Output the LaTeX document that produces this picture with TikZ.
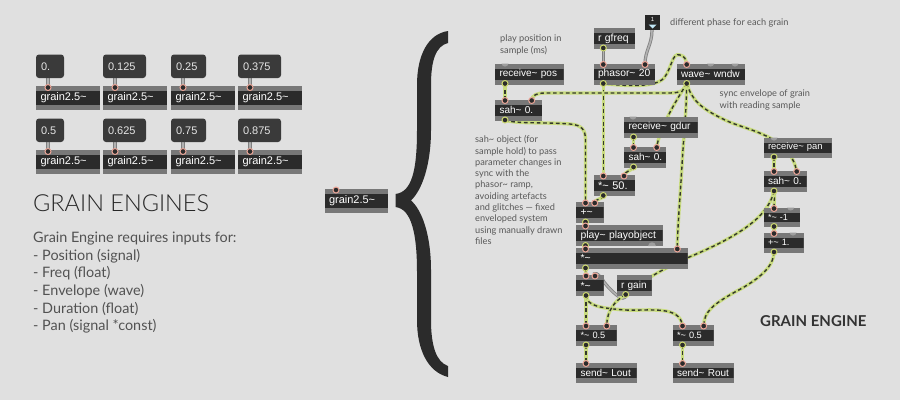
\documentclass[tikz,border=0pt]{standalone}
\usepackage{fontspec}
\setmainfont{Liberation Sans}
\newfontfamily\lato{Lato}
\newfontfamily\latolight{Lato Light}
\pgfdeclarelayer{wires}
\pgfsetlayers{wires,main}
\definecolor{pagebg}{HTML}{E0E0E0}
\definecolor{boxdark}{HTML}{2B2B2B}
\definecolor{boxband}{HTML}{787878}
\definecolor{msgdark}{HTML}{3A3A3A}
\definecolor{limew}{HTML}{C9DC80}
\definecolor{wdark}{HTML}{34382C}
\definecolor{inring}{HTML}{EDA698}
\definecolor{outring}{HTML}{CEDA70}
\definecolor{labelc}{HTML}{595959}
\tikzset{
  x=1pt,y=-1pt,
  mxbox/.style={rectangle,fill=boxband,inner xsep=4.5pt,inner ysep=0pt,align=left,text=white,
    path picture={\fill[boxdark] ([yshift=-5pt]path picture bounding box.north west) rectangle ([yshift=5pt]path picture bounding box.south east);}},
  mxmsg/.style={rectangle,rounded corners=3pt,fill=msgdark,inner xsep=5pt,inner ysep=0pt,align=left,text=white!90!black,font=\fontsize{11}{12}\selectfont},
  inport/.style={circle,draw=inring,fill=boxdark,line width=1pt,minimum size=6pt,inner sep=0pt},
  outport/.style={circle,draw=outring,fill=boxdark,line width=1pt,minimum size=6pt,inner sep=0pt},
  nubport/.style={fill=black!38},
  sigw/.style={preaction={draw=limew,line width=3.4pt},draw=wdark,line width=1.4pt,dash pattern=on 3.6pt off 2.8pt},
  grayw/.style={preaction={draw=black!50,line width=3.2pt},draw=black!30,line width=1.6pt},
  note/.style={anchor=north west,inner sep=0pt,align=left,text=labelc,font=\lato\fontsize{9.2}{11.27}\selectfont},
}
\newcommand{\pbxtext}{}
\newcommand{\pbx}[6][11]{%
  \pgfmathsetmacro{\pcx}{(#3+#5)/2}\pgfmathsetmacro{\pcy}{(#4+#6)/2}%
  \pgfmathsetmacro{\pw}{#5-#3}\pgfmathsetmacro{\ph}{#6-#4}\pgfmathsetmacro{\ptw}{\pw-9}%
  \node[mxbox,minimum width=\pw pt,minimum height=\ph pt,text width=\ptw pt,font=\fontsize{#1}{#1}\selectfont] (#2) at (\pcx,\pcy) {\mbox{\pbxtext}};}
\newcommand{\obj}[7][11]{\renewcommand{\pbxtext}{#7}\pbx[#1]{#2}{#3}{#4}{#5}{#6}}
\newcommand{\inp}[3]{\node[inport] (#1) at (#2,#3) {};}
\newcommand{\outp}[3]{\node[outport] (#1) at (#2,#3) {};}
\newcommand{\nubb}[2]{\fill[nubport] (#1-3.5,#2) .. controls (#1-3,#2+4) and (#1+3,#2+4) .. (#1+3.5,#2) -- cycle;}
\begin{document}
\begin{tikzpicture}
\useasboundingbox (0,0) rectangle (900,400);
% grain engines grid
\foreach \nm/\gx/\mx/\my/\gy/\val in {
  a/36/64/54.5/86/0.,b/103/146/54.5/86/0.125,c/171/206/54.5/86/0.25,d/238/281/54.5/86/0.375,
  e/36/64/118.5/150/0.5,f/103/146/118.5/150/0.625,g/171/206/118.5/150/0.75,h/238/281/118.5/150/0.875}{
  \pgfmathsetmacro{\gxe}{\gx+64}\pgfmathsetmacro{\gye}{\gy+24}
  \pgfmathsetmacro{\pxx}{\gx+12}\pgfmathsetmacro{\myy}{\my+23.5}\pgfmathsetmacro{\pyy}{\gy+1.5}
  \pgfmathsetmacro{\mmx}{(\gx+\mx)/2}\pgfmathsetmacro{\mmy}{\my+11.75}\pgfmathsetmacro{\mwd}{\mx-\gx}
  \obj{gr\nm}{\gx}{\gy}{\gxe}{\gye}{grain2.5\textasciitilde}
  \node[mxmsg,minimum width=\mwd pt,minimum height=23.5pt,text width=\mwd pt-10pt] (ms\nm) at (\mmx,\mmy) {\val};
  \inp{gr\nm i}{\pxx}{\pyy}
  \coordinate (ms\nm o) at (\pxx,\myy);
}
\node[anchor=west,inner sep=0pt,text=black!85,font=\latolight\fontsize{23.5}{25}\selectfont] (title) at (33,203) {GRAIN ENGINES};
\node[anchor=north west,inner sep=0pt,align=left,text=black!68,font=\lato\fontsize{14.4}{17.6}\selectfont] (reqs) at (33,232) {Grain Engine requires inputs for:\\- Position (signal)\\- Freq (float)\\- Envelope (wave)\\- Duration (float)\\- Pan (signal *const)};
% centre object
\obj{grmid}{324.5}{189}{388}{213}{grain2.5\textasciitilde}
\inp{grmidin}{336}{190}
% brace
\fill[boxdark] (448,31) .. controls (428,34) and (417,55) .. (417,85) -- (417,130) .. controls (417,170) and (412,192) .. (395.5,194) -- (395.5,207) .. controls (412,209) and (417,235) .. (417,272) -- (417,320) .. controls (417,350) and (428,372) .. (448,377) -- (448,366) .. controls (436,362) and (431,345) .. (431,320) -- (431,270) .. controls (431,235) and (422,210) .. (411,200.5) .. controls (422,190) and (431,165) .. (431,130) -- (431,85) .. controls (431,60) and (436,46) .. (448,43) -- cycle;
% patch objects
\obj[10]{rpos}{495}{63.5}{563.5}{84.5}{receive\textasciitilde{} pos}
\obj[10]{sahA}{495}{99.5}{542}{120.5}{sah\textasciitilde{} 0.}
\obj[10.4]{rfreq}{593.5}{28}{635}{49}{r gfreq}
\obj[10.3]{phas}{593.5}{63.5}{655}{84.5}{phasor\textasciitilde{} 20}
\obj[10.1]{wave}{676.5}{63.5}{745}{84.5}{wave\textasciitilde{} wndw}
\obj[10.1]{rgdur}{624}{116.5}{697.5}{137.5}{receive\textasciitilde{} gdur}
\obj[10]{sahB}{624}{146.5}{666}{167.5}{sah\textasciitilde{} 0.}
\obj[11]{mulfifty}{593.5}{175}{635}{196}{*\textasciitilde{} 50.}
\obj[10.4]{addsig}{576}{202}{603.5}{222.5}{+\textasciitilde}
\obj[10.4]{play}{576}{225}{662.5}{246}{play\textasciitilde{} playobject}
\obj[10.4]{mulbig}{576}{248}{687.5}{268.5}{*\textasciitilde}
\obj[10.4]{mulsm}{576}{275}{603.5}{296}{*\textasciitilde}
\obj[10]{rgain}{616.5}{275}{651.5}{296}{r gain}
\obj[9.2]{mulL}{576}{325}{616.5}{345.5}{*\textasciitilde{} 0.5}
\obj[9.2]{mulR}{672.5}{325}{713.5}{345.5}{*\textasciitilde{} 0.5}
\obj[10]{sendL}{576}{362.5}{636.5}{383}{send\textasciitilde{} Lout}
\obj[10]{sendR}{672.5}{362.5}{733.5}{383}{send\textasciitilde{} Rout}
\obj[9.4]{rpan}{763.5}{137.5}{831.5}{157.5}{receive\textasciitilde{} pan}
\obj[10]{sahC}{763.5}{170.5}{806.5}{191.5}{sah\textasciitilde{} 0.}
\obj[9]{mulneg}{763.5}{207.5}{800}{227}{*\textasciitilde{} -1}
\obj[9.2]{addone}{763.5}{232.5}{803.5}{252.5}{+\textasciitilde{} 1.}
% number box
\node[rectangle,fill=boxdark!90!black,minimum width=15.5pt,minimum height=15.5pt,inner sep=0pt,text=white,font=\fontsize{6}{6}\selectfont,text depth=6pt] (tog) at (652.5,22.7) {1};
\fill[black!10!cyan!25!white] (648.5,24.5) -- (656.5,24.5) -- (652.5,28.5) -- cycle;
\coordinate (togo) at (652,30);
% unused inlets
\nubb{505}{63.5}\nubb{633}{116.5}\nubb{710.7}{63.5}\nubb{735}{63.5}\nubb{774}{137.5}\nubb{790.7}{207.5}\nubb{793}{232.5}
\fill[black!38] (648,246) .. controls (649,241) and (655,241) .. (656,246) -- cycle;
% ports
\outp{rposo}{505}{83.5}
\inp{sahAa}{505}{100.5}\inp{sahAb}{531.7}{100.5}\outp{sahAo}{505}{120}
\outp{rfreqo}{603.3}{48}
\inp{phasa}{603.3}{64.5}\inp{phasb}{645}{64.5}\outp{phaso}{603.3}{83.5}
\inp{wavea}{686.7}{64.5}\outp{waveo}{686.7}{83.5}
\outp{rgduro}{633.5}{137}
\inp{sahBa}{633.5}{147.5}\inp{sahBb}{656.7}{147.5}\outp{sahBo}{633.5}{167}
\inp{mula}{603.3}{176}\inp{mulb}{624}{176}\outp{mulo}{603.3}{195.5}
\inp{adda}{585.5}{203}\inp{addb}{594.7}{203}\outp{addo}{585.5}{222}
\inp{playi}{585.5}{226}\outp{playo}{585.5}{245.5}
\inp{biga}{585.5}{249}\inp{bigb}{677.3}{249}\outp{bigo}{585.5}{268}
\inp{sma}{586}{276}\inp{smb}{595}{276}\outp{smo}{586}{295.5}
\outp{rgaino}{625.7}{294.5}
\inp{La}{586}{326}\inp{Lb}{606.7}{326}\outp{Lo}{586}{345}
\inp{Ra}{682.5}{326}\inp{Rb}{703.7}{326}\outp{Ro}{682.5}{345}
\inp{SLi}{586}{363.5}\inp{SRi}{682.5}{363.5}
\outp{rpano}{774}{157}
\inp{sahCa}{774}{171.5}\inp{sahCb}{796.7}{171.5}\outp{sahCo}{774}{191}
\inp{nega}{774}{208.5}\outp{nego}{774}{226.5}
\inp{onea}{774}{233.5}\outp{oneo}{774}{252}
% wires
\begin{pgfonlayer}{wires}
\fill[pagebg] (0,0) rectangle (900,400);
\foreach \nm in {a,b,c,d,e,f,g,h}{
  \draw[grayw] (ms\nm o) -- (gr\nm i.center);
}
\draw[grayw] (rfreqo.center) -- (phasa.center);
\draw[grayw] (togo) .. controls (652,45) and (645,50) .. (phasb.center);
\draw[grayw] (rgaino.center) .. controls (625,305) and (610,290) .. (604,282) .. controls (598,272) and (593,272) .. (smb.center);
\draw[sigw] (rposo.center) -- (sahAa.center);
\draw[sigw] (phaso.center) -- (mula.center);
\draw[sigw] (phaso.center) .. controls (625,86) and (655,88) .. (664,78) .. controls (672,68) and (672,52) .. (680,55) .. controls (685,56) and (686,60) .. (wavea.center);
\draw[sigw] (waveo.center) .. controls (686,90) and (680,93) .. (670,93) -- (545,93) .. controls (537,93) and (532,95) .. (sahAb.center);
\draw[sigw] (sahAo.center) .. controls (515,124) and (545,122) .. (570,124) .. controls (582,125) and (585.5,130) .. (585.5,140) -- (adda.center);
\draw[sigw] (waveo.center) .. controls (680,95) and (660,125) .. (sahBb.center);
\draw[sigw] (waveo.center) .. controls (686,120) and (684,130) .. (682,165) .. controls (680,200) and (677.3,230) .. (bigb.center);
\draw[sigw] (waveo.center) .. controls (692,100) and (700,108) .. (725,120) .. controls (745,130) and (790,135) .. (sahCb.center);
\draw[sigw] (rgduro.center) -- (sahBa.center);
\draw[sigw] (sahBo.center) .. controls (630,172) and (626,170) .. (mulb.center);
\draw[sigw] (mulo.center) .. controls (602,200) and (596,198) .. (addb.center);
\draw[sigw] (addo.center) -- (playi.center);
\draw[sigw] (playo.center) -- (biga.center);
\draw[sigw] (bigo.center) -- (sma.center);
\draw[sigw] (smo.center) -- (La.center);
\draw[sigw] (smo.center) .. controls (587,306) and (600,308) .. (625,310) .. controls (650,311) and (680,305) .. (Ra.center);
\draw[sigw] (Lo.center) -- (SLi.center);
\draw[sigw] (Ro.center) -- (SRi.center);
\draw[sigw] (rpano.center) -- (sahCa.center);
\draw[sigw] (sahCo.center) .. controls (775,196) and (774,200) .. (nega.center);
\draw[sigw] (nego.center) -- (onea.center);
\draw[sigw] (oneo.center) .. controls (774,265) and (762,278) .. (735,292) .. controls (712,305) and (704,312) .. (Rb.center);
\draw[sigw] (sahCo.center) .. controls (768,220) and (730,240) .. (687,258) .. controls (660,270) and (630,288) .. (615,303) .. controls (608,312) and (607,318) .. (Lb.center);
\end{pgfonlayer}
% notes
\node[note] (n1) at (500,35) {play position in\\[0.7pt]sample (ms)};
\node[note] (n2) at (670,18.5) {different phase for each grain};
\node[note] (n3) at (719.5,89.5) {sync envelope of grain\\[0.3pt]with reading sample};
\node[note] (n4) at (475,135.5) {sah\textasciitilde{} object (for\\sample hold) to pass\\parameter changes in\\sync with the\\phasor\textasciitilde{} ramp,\\avoiding artefacts\\and glitches — fixed\\enveloped system\\using manually drawn\\files};
\node[anchor=west,inner sep=0pt,text=black!80,font=\lato\bfseries\fontsize{15}{15}\selectfont] (n5) at (760,321) {GRAIN ENGINE};
\end{tikzpicture}
\end{document}
